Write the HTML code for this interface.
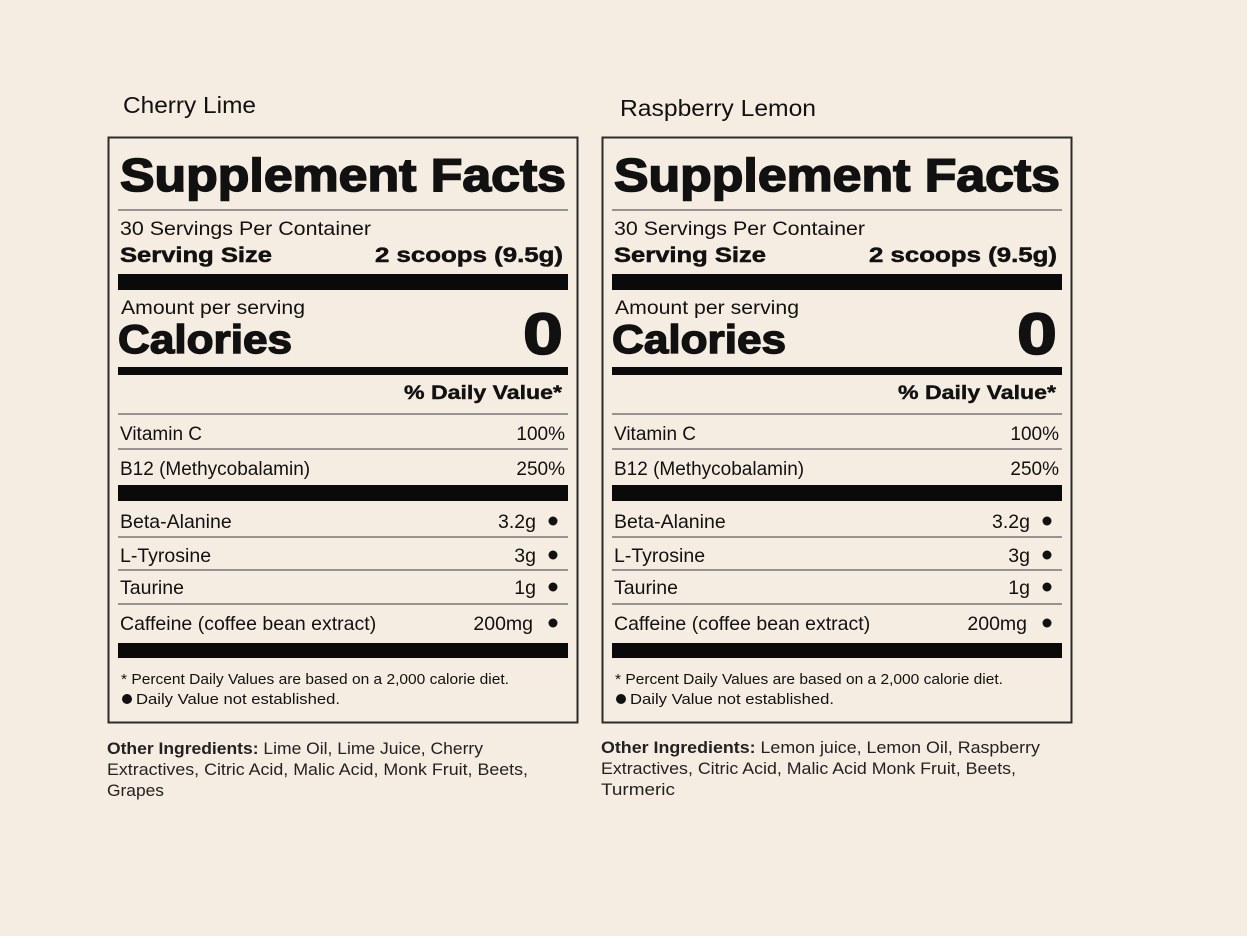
<!DOCTYPE html>
<html><head><meta charset="utf-8">
<style>
html,body{margin:0;padding:0;background:#f6ede2;}
svg{display:block;font-family:"Liberation Sans",Arial,sans-serif;}
</style></head>
<body>
<svg id="s" width="1247" height="936" viewBox="0 0 1247 936" xmlns="http://www.w3.org/2000/svg">
<rect width="1247" height="936" fill="#f6ede2"/>
</svg>
<script>
const flavors = ["Cherry Lime", "Raspberry Lemon"];
const dvNames = ["Vitamin C", "B12 (Methycobalamin)"];
const dvValues = ["100%", "250%"];
const ingNames = ["Beta-Alanine", "L-Tyrosine", "Taurine", "Caffeine (coffee bean extract)"];
const ingValues = ["3.2g", "3g", "1g", "200mg"];
const otherIngredients = [
  ["Lime Oil, Lime Juice, Cherry", "Extractives, Citric Acid, Malic Acid, Monk Fruit, Beets,", "Grapes"],
  ["Lemon juice, Lemon Oil, Raspberry", "Extractives, Citric Acid, Malic Acid Monk Fruit, Beets,", "Turmeric"]
];
const svg = document.getElementById('s');
const NS = "http://www.w3.org/2000/svg";
function mk(tag, attrs, parent){
  const e = document.createElementNS(NS, tag);
  for (const k in attrs) e.setAttribute(k, attrs[k]);
  (parent||svg).appendChild(e);
  return e;
}
function txt(g, x, y, s, size, weight, anchor, len, name){
  const t = mk('text', {x:x, y:y, 'font-size':size, 'font-weight':weight||'normal', 'text-anchor':anchor||'start', fill:'#111'}, g);
  if (len){ t.setAttribute('textLength', len); t.setAttribute('lengthAdjust','spacingAndGlyphs'); }
  t.textContent = s;
  
  
  return t;
}
function heavy(t, w){ t.setAttribute('stroke', '#111'); t.setAttribute('stroke-width', w); }
function bar(g, y1, y2, x0, x1, name){
  const r = mk('rect', {x:x0, y:y1, width:x1-x0, height:y2-y1, fill:'#0a0a0a'}, g);
  
  
}
function line(g, y, x0, x1, name){
  const l = mk('line', {x1:x0, x2:x1, y1:y, y2:y, stroke:'#777', 'stroke-width':1.5}, g);
  
  
}
const offsets = [0, 494];
const titleY = [113, 116];
const titleX = [123, 620];
const titleLen = [133, 196];
const otherLens = [[376, 421, 57], [439, 415, 74]];
flavors.forEach((f, i) => {
  const dx = offsets[i];
  const g = mk('g', {});
  
  
  txt(g, titleX[i], titleY[i], f, 23, 'normal', 'start', titleLen[i], 'flavor-title');
  const box = mk('rect', {x:108.5+dx, y:137.5, width:469, height:585, fill:'none', stroke:'#2b2b2b', 'stroke-width':2}, g);
  
  
  const L = 118+dx, R = 568+dx;
  heavy(txt(g, 120+dx, 191, 'Supplement Facts', 46, 'bold', 'start', 446, 'facts-heading'), 1.6);
  line(g, 210, L, R, 'divider');
  txt(g, 120+dx, 235, '30 Servings Per Container', 19, 'normal', 'start', 251, 'servings-per-container');
  heavy(txt(g, 120+dx, 262, 'Serving Size', 21, 'bold', 'start', 152, 'serving-size-label'), 0.5);
  heavy(txt(g, 563+dx, 262, '2 scoops (9.5g)', 21, 'bold', 'end', 188, 'serving-size-value'), 0.5);
  bar(g, 274, 290, L, R, 'thick-bar');
  txt(g, 121+dx, 314, 'Amount per serving', 19, 'normal', 'start', 184, 'amount-per-serving');
  heavy(txt(g, 118+dx, 353, 'Calories', 40, 'bold', 'start', 174, 'calories-label'), 1.4);
  heavy(txt(g, 563+dx, 354, '0', 58, 'bold', 'end', 40, 'calories-value'), 1.6);
  bar(g, 367, 375, L, R, 'medium-bar');
  heavy(txt(g, 562+dx, 399, '% Daily Value*', 19, 'bold', 'end', 158, 'daily-value-header'), 0.4);
  line(g, 414, L, R, 'divider');
  const dvY = [440, 475];
  dvNames.forEach((n, k) => {
    txt(g, 120+dx, dvY[k], n, 19, 'normal', 'start', null, 'dv-name');
    txt(g, 565+dx, dvY[k], dvValues[k], 19, 'normal', 'end', null, 'dv-value');
  });
  line(g, 449, L, R, 'divider');
  bar(g, 485, 501, L, R, 'thick-bar');
  const ingY = [528, 562, 594, 630];
  const lineY = [537, 570, 604];
  ingNames.forEach((n, k) => {
    txt(g, 120+dx, ingY[k], n, 19.5, 'normal', 'start', null, 'ingredient-name');
    txt(g, (k==3?533:536)+dx, ingY[k], ingValues[k], 19.5, 'normal', 'end', null, 'ingredient-value');
    const c = mk('circle', {cx:553+dx, cy:ingY[k]-7, r:4.5, fill:'#111'}, g);
    
    
    if (k < 3) line(g, lineY[k], L, R, 'divider');
  });
  bar(g, 643, 658, L, R, 'thick-bar');
  txt(g, 121+dx, 684, '* Percent Daily Values are based on a 2,000 calorie diet.', 14.5, 'normal', 'start', 388, 'footnote-percent');
  const c2 = mk('circle', {cx:127+dx, cy:699, r:5, fill:'#111'}, g);
  
  
  txt(g, 136+dx, 704, 'Daily Value not established.', 14.5, 'normal', 'start', 204, 'footnote-dv');
  const ox = 107+dx;
  const oy = [754, 775, 796].map(v => v - (i?1:0));
  const t = mk('text', {x:ox, y:oy[0], 'font-size':17, fill:'#222', textLength:otherLens[i][0], lengthAdjust:'spacingAndGlyphs'}, g);
  
  
  const b = mk('tspan', {'font-weight':'bold'}, t); b.textContent = 'Other Ingredients: ';
  const s1 = mk('tspan', {}, t); s1.textContent = otherIngredients[i][0];
  [1,2].forEach(j => {
    const tt = txt(g, ox, oy[j], otherIngredients[i][j], 17, 'normal', 'start', otherLens[i][j], 'other-ingredients-line');
    tt.setAttribute('fill', '#222');
  });
});
</script>
</body></html>
